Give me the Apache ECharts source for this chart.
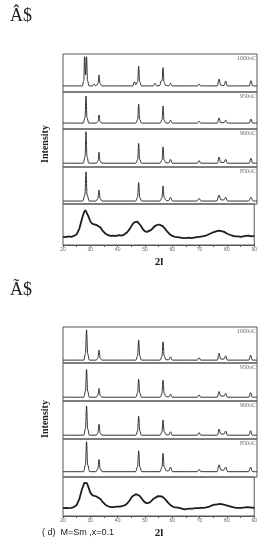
<!DOCTYPE html>
<html>
<head>
<meta charset="utf-8">
<script src="https://cdn.jsdelivr.net/npm/echarts@6/dist/echarts.min.js"></script>
<style>
  html, body { margin: 0; padding: 0; background: #fff; }
  #chart { width: 260px; height: 541px; }
</style>
</head>
<body>
<div id="chart"></div>
<script>
// panel labels (top to bottom, crystalline ones)
const tempLabels = ['1000oC', '950oC', '900oC', '850oC']

// [2theta, intensity], 0..100 per panel
const top1000 = [[20,16],[27.0,16],[27.5,30],[27.8,93],[28.15,45],[28.5,93],[28.85,30],[29.4,16],[30.6,16],[31.2,21],[31.8,16],[32.0,16],[32.65,22],[33.0,45],[33.35,22],[34.0,16],[45.2,16],[45.8,27],[46.3,19],[46.95,28],[47.3,68],[47.65,28],[48.3,16],[52.6,16],[53.2,23],[53.8,16],[54.9,17],[55.4,29],[55.75,30],[56.1,64],[56.45,26],[57.1,17],[58.2,16],[58.8,23],[59.4,16],[68.5,16],[69.1,21],[69.7,16],[75.7,16],[76.3,34],[76.9,18],[78.1,17],[78.7,29],[79.3,16],[87.2,16],[87.8,30],[88.4,16],[90,16]]
const top950 = [[20,16],[27.3,16],[27.95,31],[28.3,89],[28.65,31],[29.3,16],[32.0,16],[32.65,20],[33.0,38],[33.35,20],[34.0,16],[46.3,16],[46.95,26],[47.3,67],[47.65,26],[48.3,16],[55.1,16],[55.75,25],[56.1,62],[56.45,25],[57.1,16],[58.2,16],[58.8,24],[59.4,16],[68.5,16],[69.1,21],[69.7,16],[75.7,16],[76.3,30],[76.9,17],[78.1,17],[78.7,24],[79.3,16],[87.2,16],[87.8,27],[88.4,16],[90,16]]
const top900 = [[20,10],[27.3,10],[27.95,27],[28.3,93],[28.65,27],[29.3,10],[32.0,10],[32.65,16],[33.0,39],[33.35,16],[34.0,10],[46.3,10],[46.95,20],[47.3,62],[47.65,20],[48.3,10],[55.1,10],[55.75,19],[56.1,53],[56.45,19],[57.1,11],[58.2,11],[58.8,20],[59.4,10],[68.5,10],[69.1,17],[69.7,10],[75.7,10],[76.3,26],[76.9,12],[78.1,12],[78.7,20],[79.3,10],[87.2,10],[87.8,23],[88.4,10],[90,10]]
const top850 = [[20,8],[27.1,8],[27.9,24],[28.3,87],[28.7,24],[29.5,8],[31.9,8],[32.6,15],[33.0,38],[33.4,15],[34.1,8],[46.2,8],[46.9,18],[47.3,58],[47.7,18],[48.4,8],[55.0,8],[55.7,17],[56.1,49],[56.5,17],[57.3,9],[58.1,9],[58.8,18],[59.5,8],[68.3,8],[69.1,15],[69.9,8],[75.5,8],[76.3,24],[77.0,11],[78.0,11],[78.7,18],[79.4,8],[87.0,8],[87.8,18],[88.6,8],[90,8]]
const topAmorph = [[20,20],[21,19],[22,21],[23,20],[24,22],[25,26],[26,40],[27,65],[27.7,80],[28.2,85],[28.7,82],[29.3,70],[30,58],[30.7,52],[31.5,50],[32.3,49],[33,47],[33.8,42],[34.5,35],[35.5,28],[36.5,24],[37.5,22],[38.5,23],[39.5,22],[40.5,24],[41.5,23],[42.5,26],[43.5,31],[44.5,40],[45.3,49],[46,55],[46.6,57],[47.2,57],[47.8,54],[48.5,47],[49.3,38],[50,33],[50.8,32],[51.5,33],[52.3,37],[53,42],[53.8,47],[54.5,49],[55.2,50],[55.8,49],[56.5,46],[57.3,40],[58,34],[59,27],[60,22],[61,20],[62,19],[63,18],[64,17],[65,17],[66,18],[67,17],[68,18],[69,19],[70,20],[71,21],[72,22],[73,25],[74,28],[75,31],[76,33],[77,35],[78,34],[79,32],[80,28],[81,25],[82,23],[83,21],[84,21],[85,20],[86,21],[87,22],[88,23],[89,21],[90,22]]

const bot1000 = [[20,8],[27.5,8],[28.1,26],[28.5,92],[28.9,26],[29.5,8],[32.0,8],[32.6,14],[33.0,36],[33.4,14],[34.0,8],[46.3,8],[46.9,20],[47.3,64],[47.7,20],[48.3,8],[55.1,8],[55.7,19],[56.1,59],[56.5,19],[57.2,9],[58.2,9],[58.8,17],[59.4,8],[68.5,8],[69.1,15],[69.7,8],[75.7,8],[76.3,27],[76.9,11],[78.1,11],[78.7,20],[79.3,8],[87.1,8],[87.7,22],[88.3,8],[90,8]]
const bot950 = [[20,10],[27.5,10],[28.1,26],[28.5,83],[28.9,26],[29.5,10],[32.0,10],[32.6,15],[33.0,33],[33.4,15],[34.0,10],[46.3,10],[46.9,21],[47.3,57],[47.7,21],[48.3,10],[55.1,10],[55.7,20],[56.1,55],[56.5,20],[57.2,11],[58.2,11],[58.8,18],[59.4,10],[68.5,10],[69.1,16],[69.7,10],[75.7,10],[76.3,25],[76.9,13],[78.1,13],[78.7,20],[79.3,10],[87.1,10],[87.7,22],[88.3,10],[90,10]]
const bot900 = [[20,10],[27.5,10],[28.1,27],[28.5,87],[28.9,27],[29.5,10],[32.0,10],[32.6,16],[33.0,39],[33.4,16],[34.0,10],[46.3,10],[46.9,21],[47.3,60],[47.7,21],[48.3,10],[55.1,10],[55.7,19],[56.1,50],[56.5,19],[57.2,11],[58.2,11],[58.8,19],[59.4,10],[68.5,10],[69.1,17],[69.7,10],[75.7,10],[76.3,26],[76.9,13],[78.1,13],[78.7,21],[79.3,10],[87.1,10],[87.7,22],[88.3,10],[90,10]]
const bot850 = [[20,14],[27.4,14],[28.1,32],[28.5,93],[28.9,32],[29.6,14],[31.9,14],[32.6,22],[33.0,46],[33.4,22],[34.1,14],[46.2,14],[46.9,27],[47.3,69],[47.7,27],[48.4,14],[55.0,14],[55.7,26],[56.1,62],[56.5,26],[57.3,16],[58.1,16],[58.8,26],[59.5,14],[68.4,14],[69.1,20],[69.8,14],[75.6,14],[76.3,32],[77.0,18],[78.0,18],[78.7,26],[79.4,14],[87.0,14],[87.7,26],[88.4,14],[90,14]]
const botAmorph = [[20,20],[21,21],[22,20],[23,21],[24,23],[25,28],[26,44],[27,70],[27.8,85],[28.3,88],[28.8,84],[29.4,72],[30,60],[30.8,53],[31.5,51],[32.3,50],[33,48],[33.8,43],[34.5,36],[35.5,29],[36.5,25],[37.5,23],[38.5,23],[39.5,24],[40.5,24],[41.5,25],[42.5,27],[43.5,32],[44.5,41],[45.3,50],[46,54],[46.7,56],[47.3,55],[48,52],[48.7,46],[49.4,39],[50.2,34],[51,33],[51.8,35],[52.5,40],[53.3,45],[54,48],[54.8,51],[55.5,51],[56.2,50],[57,46],[57.8,40],[58.6,33],[59.5,27],[60.5,23],[61.5,22],[62.5,21],[63.5,19],[64.5,17],[65.5,18],[66.5,19],[67.5,19],[68.5,20],[69.5,20],[70.5,21],[71.5,21],[72.5,22],[73.5,24],[74.5,27],[75.5,29],[76.5,30],[77.5,31],[78.5,30],[79.5,28],[80.5,26],[81.5,24],[82.5,22],[83.5,21],[84.5,21],[85.5,21],[86.5,22],[87.5,23],[88.5,22],[89.5,21],[90,22]]

const patterns = [top1000, top950, top900, top850, topAmorph, bot1000, bot950, bot900, bot850, botAmorph]

// panel frames in px
const panelTops = [54, 92, 129, 167, 204, 327, 363, 401, 439, 477]
const panelBottoms = [92, 129, 167, 204, 245, 363, 401, 439, 477, 516]

let myChart = echarts.init(document.getElementById('chart'), null, { renderer: 'canvas' })

let grids = []
let xAxes = []
let yAxes = []
let series = []
let texts = []
for (let i = 0; i < patterns.length; i++) {
  let last = (i === 4 || i === 9)
  grids.push({
    left: 63,
    width: 194,
    top: panelTops[i],
    height: panelBottoms[i] - panelTops[i],
    show: true,
    borderColor: '#555',
    borderWidth: 1,
    backgroundColor: 'transparent'
  })
  xAxes.push({
    gridIndex: i,
    type: 'value',
    min: 20,
    max: 90,
    interval: 10,
    show: last,
    axisLine: { show: true, lineStyle: { color: '#555', width: 1 } },
    axisTick: { show: true, inside: false, length: 2, lineStyle: { color: '#555' } },
    minorTick: { show: true, splitNumber: 2, length: 2, lineStyle: { color: '#555' } },
    axisLabel: { show: true, fontSize: 5, color: '#666', margin: 2, fontFamily: 'Liberation Sans' },
    splitLine: { show: false }
  })
  yAxes.push({
    gridIndex: i,
    type: 'value',
    min: 0,
    max: 100,
    show: false,
    splitLine: { show: false }
  })
  series.push({
    type: 'line',
    xAxisIndex: i,
    yAxisIndex: i,
    data: patterns[i],
    showSymbol: false,
    symbol: 'none',
    smooth: last ? false : 0.35,
    smoothMonotone: 'x',
    lineStyle: { color: '#1e1e1e', width: last ? 1.8 : 0.9 },
    silent: true
  })
  if (i % 5 < 4) {
    texts.push({
      type: 'text',
      right: 4,
      top: panelTops[i] + 1,
      style: { text: tempLabels[i % 5], fontSize: 6, fill: '#666', fontFamily: 'Liberation Serif' }
    })
  }
}

texts.push(
  { type: 'text', left: 10, top: 7, style: { text: 'Â$', fontSize: 18, fill: '#222', fontFamily: 'Liberation Serif' } },
  { type: 'text', left: 10, top: 281, style: { text: 'Ã$', fontSize: 18, fill: '#222', fontFamily: 'Liberation Serif' } },
  { type: 'text', x: 45, y: 144, rotation: Math.PI / 2, style: { text: 'Intensity', fontSize: 10, fontWeight: 'bold', fill: '#222', fontFamily: 'Liberation Serif', align: 'center', verticalAlign: 'middle' } },
  { type: 'text', x: 45, y: 419, rotation: Math.PI / 2, style: { text: 'Intensity', fontSize: 10, fontWeight: 'bold', fill: '#222', fontFamily: 'Liberation Serif', align: 'center', verticalAlign: 'middle' } },
  { type: 'text', x: 159, y: 262, style: { text: '2l', fontSize: 11, fontWeight: 'bold', fill: '#222', fontFamily: 'Liberation Serif', align: 'center', verticalAlign: 'middle' } },
  { type: 'text', x: 159, y: 533, style: { text: '2l', fontSize: 11, fontWeight: 'bold', fill: '#222', fontFamily: 'Liberation Serif', align: 'center', verticalAlign: 'middle' } },
  { type: 'text', x: 42, y: 533, style: { text: '( d)  M=Sm ,x=0.1', fontSize: 9, fill: '#222', fontFamily: 'Liberation Sans', align: 'left', verticalAlign: 'middle' } }
)

myChart.setOption({
  animation: false,
  backgroundColor: '#fff',
  grid: grids,
  xAxis: xAxes,
  yAxis: yAxes,
  series: series,
  graphic: texts
})
</script>
</body>
</html>
